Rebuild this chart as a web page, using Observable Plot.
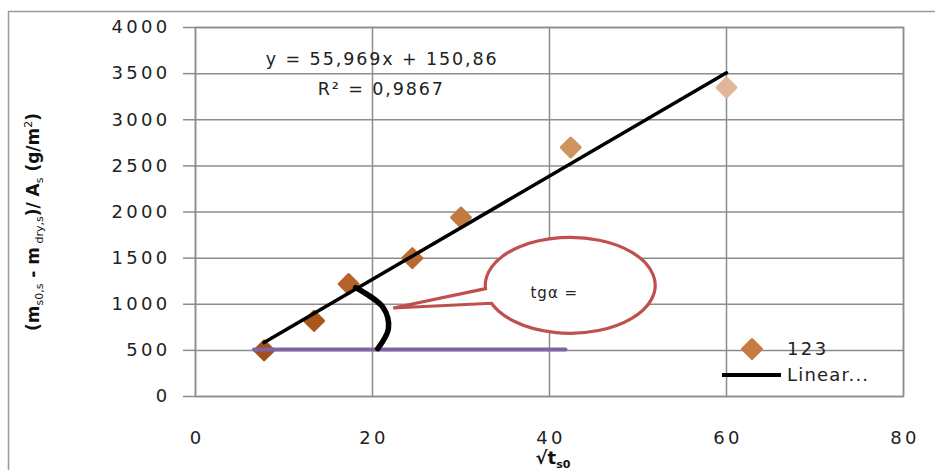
<!DOCTYPE html>
<html><head><meta charset="utf-8">
<script src="https://cdn.jsdelivr.net/npm/d3@7"></script>
<script src="https://cdn.jsdelivr.net/npm/@observablehq/plot@0.6"></script>
<style>
body{margin:0;background:#fff;}
#chart{width:935px;height:470px;overflow:hidden;}
</style></head><body><div id="chart"></div>
<script>
// ---- data ----
const sqrtT = [7.75, 13.4, 17.3, 24.5, 30.0, 42.4, 60.0];
const massPerArea = [500, 820, 1220, 1500, 1940, 2700, 3350];
const xTicks = [0, 20, 40, 60, 80];
const yTicks = [0, 500, 1000, 1500, 2000, 2500, 3000, 3500, 4000];
const slope = 55.969, intercept = 150.86;
const equationLabel = "y = 55,969x + 150,86";
const r2Label = "R² = 0,9867";
const seriesName = "123";
const trendName = "Linear...";
const calloutText = "tgα =";
// annotation anchors (data space)
const eqPos = {x: 21.1, y: 3650};
const r2Pos = {x: 21.0, y: 3330};
const baseLineX = [6.6, 41.8], baseLineY = [510, 510];
const arcX = [18.1, 21.2, 21.8, 20.6], arcY = [1180, 965, 737, 520];
const callout = {cx: 42.4, cy: 1200, rx: 9.6, ry: 520, tipX: 22.4, tipY: 954};
const calloutTextPos = {x: 40.6, y: 1120};

// ---- styles ----
const pointColors = ["#a14f1d", "#a9561f", "#b5632a", "#b96a31", "#c27a41", "#cf935e", "#e2b598"];
const gridColor = "#8c8c8c";

const points = sqrtT.map((x, i) => ({x, y: massPerArea[i], c: pointColors[i]}));
const trend = [d3.min(sqrtT), d3.max(sqrtT)].map(x => ({x, y: slope * x + intercept}));
const baseLine = baseLineX.map((x, i) => ({x, y: baseLineY[i]}));
const arc = arcX.map((x, i) => ({x, y: arcY[i]}));

const plot = Plot.plot({
  width: 935, height: 470,
  marginLeft: 195, marginRight: 32, marginTop: 27, marginBottom: 74,
  x: {domain: [0, 80]},
  y: {domain: [0, 4000]},
  color: {type: "identity"},
  style: {fontFamily: "DejaVu Sans", fontSize: "18px", color: "#222", background: "white"},
  marks: [
    Plot.gridX(xTicks, {stroke: gridColor, strokeOpacity: 1, strokeWidth: 1.5}),
    Plot.gridY(yTicks, {stroke: gridColor, strokeOpacity: 1, strokeWidth: 1.5}),
    Plot.frame({stroke: gridColor, strokeWidth: 1.5}),
    Plot.axisY(yTicks, {tickSize: 12, tickPadding: 13, stroke: gridColor, strokeWidth: 1.5, label: null, tickFormat: d => String(d)}),
    Plot.axisX(xTicks, {tickSize: 0, tickPadding: 35, label: null, tickFormat: d => String(d)}),
    Plot.dot(points, {x: "x", y: "y", symbol: "diamond2", r: 8.5, fill: "c", stroke: "c", strokeWidth: 3, strokeLinejoin: "round"}),
    Plot.line(trend, {x: "x", y: "y", stroke: "black", strokeWidth: 3.5}),
    Plot.line(baseLine, {x: "x", y: "y", stroke: "#8064a2", strokeWidth: 4}),
    Plot.line(arc, {x: "x", y: "y", curve: "catmull-rom", stroke: "black", strokeWidth: 5.5, strokeLinecap: "round"}),
    Plot.text([eqPos], {x: "x", y: "y", text: () => equationLabel, fill: "#222", fontSize: 17.5}),
    Plot.text([r2Pos], {x: "x", y: "y", text: () => r2Label, fill: "#222", fontSize: 17.5})
  ]
});
document.getElementById("chart").appendChild(plot);

const svg = d3.select(plot);
const sx = plot.scale("x"), sy = plot.scale("y");

// letter spacing tweaks (wide font look)
svg.selectAll("g[aria-label='y-axis tick label'] text").style("letter-spacing", "3.3px");
svg.selectAll("g[aria-label='x-axis tick label'] text").style("letter-spacing", "3.3px").attr("dx", "1.6px");
svg.selectAll("g[aria-label='text'] text").style("letter-spacing", "1.9px");

// outer frame of the chart area
svg.append("path").attr("d", "M8.5,470 L8.5,11.5 L935,11.5").attr("fill", "none").attr("stroke", "#9a9a9a").attr("stroke-width", 1.5);

// callout (ellipse with wedge tail)
{
  const cx = sx.apply(callout.cx), cy = sy.apply(callout.cy);
  const rx = sx.apply(callout.cx + callout.rx) - cx, ry = cy - sy.apply(callout.cy + callout.ry);
  const a1 = 176 * Math.PI / 180, a2 = 158 * Math.PI / 180;
  const p1 = [cx + rx * Math.cos(a1), cy + ry * Math.sin(a1)];
  const p2 = [cx + rx * Math.cos(a2), cy + ry * Math.sin(a2)];
  const tip = [sx.apply(callout.tipX), sy.apply(callout.tipY)];
  svg.append("path")
    .attr("d", `M${p1} A${rx},${ry} 0 1 1 ${p2} L${tip} Z`)
    .attr("fill", "white").attr("stroke", "#c0504d").attr("stroke-width", 3.2).attr("stroke-linejoin", "miter");
  svg.append("text").attr("x", sx.apply(calloutTextPos.x)).attr("y", sy.apply(calloutTextPos.y))
    .attr("text-anchor", "middle").attr("dy", "0.35em")
    .attr("font-family", "DejaVu Sans").attr("font-size", 15).style("letter-spacing", "1px").attr("fill", "#222").text(calloutText);
}

// legend
{
  const lg = svg.append("g").attr("font-family", "DejaVu Sans").attr("font-size", 18).attr("fill", "#222")
    .attr("text-anchor", "start").style("letter-spacing", "2.4px");
  const d = 9.5;
  lg.append("path").attr("d", `M752,${349 - d} L${752 + d},349 L752,${349 + d} L${752 - d},349 Z`)
    .attr("fill", "#c97a44").attr("stroke", "#c97a44").attr("stroke-width", 3).attr("stroke-linejoin", "round");
  lg.append("text").attr("x", 787).attr("y", 349).attr("dy", "0.35em").text(seriesName);
  lg.append("line").attr("x1", 722).attr("x2", 781).attr("y1", 375).attr("y2", 375).attr("stroke", "black").attr("stroke-width", 4);
  lg.append("text").attr("x", 787).attr("y", 375).attr("dy", "0.35em").style("letter-spacing", "1.2px").text(trendName);
}

// y axis title
{
  const t = svg.append("text").attr("transform", "translate(39,222) rotate(-90)")
    .attr("text-anchor", "middle").attr("font-family", "DejaVu Sans").attr("font-size", 17)
    .attr("font-weight", "bold").attr("fill", "#111");
  const parts = [
    ["(m", 0], ["s0,s", 1], [" - m", 0], [" dry,s", 1], [")/ A", 0], ["s", 1], [" (g/m", 0], ["2", 2], [")", 0]
  ];
  let shift = 0;
  for (const [s, k] of parts) {
    const target = k === 1 ? 4 : k === 2 ? -7 : 0;
    const ts = t.append("tspan").text(s).attr("dy", target - shift);
    if (k) ts.attr("font-size", 11).attr("font-weight", "normal");
    shift = target;
  }
}

// x axis title
{
  const t = svg.append("text").attr("x", 553).attr("y", 464).attr("text-anchor", "middle")
    .attr("font-family", "DejaVu Sans").attr("font-size", 18).attr("font-weight", "bold").attr("fill", "#111");
  t.append("tspan").text("√t");
  t.append("tspan").text("s0").attr("font-size", 11).attr("dy", 4);
}
</script></body></html>
